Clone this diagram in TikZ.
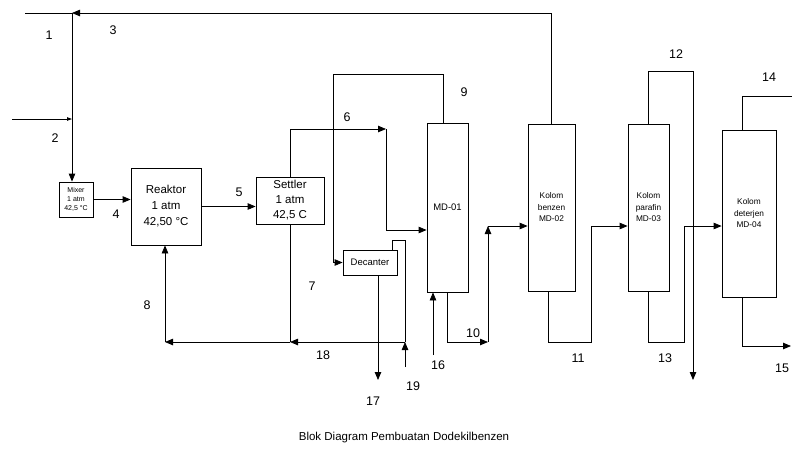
\documentclass[tikz,border=0pt]{standalone}
\usepackage{fontspec}
\setmainfont{Liberation Sans}
\usetikzlibrary{arrows.meta, positioning, calc}

\begin{document}
\begin{tikzpicture}[x=1pt, y=-1pt, line width=0.8pt,
    unit/.style={draw, inner sep=0pt, align=center, font=\fontsize{11.5}{16}\selectfont},
    kolom/.style={draw, inner sep=0pt, align=center, font=\fontsize{8.3}{11.5}\selectfont},
    flow/.style={-{Triangle[length=8pt, width=6.5pt]}},
    stream/.style={font=\fontsize{12.5}{13}\selectfont, inner sep=0pt}]
    \useasboundingbox (0,0) rectangle (792,456);

    % unit operations
    \node[draw, inner sep=0pt, align=center, minimum width=34, minimum height=35,
          font=\fontsize{7}{9}\selectfont] (mixer) at (76,199.5) {Mixer\\1 atm\\42,5 °C};
    \node[unit, minimum width=70, minimum height=77] (reaktor) at (166,206.5) {Reaktor\\1 atm\\42,50 °C};
    \node[unit, minimum width=68, minimum height=47, font=\fontsize{11.5}{15}\selectfont] (settler) at (290,200.5) {Settler\\1 atm\\42,5 C};
    \node[draw, inner sep=0pt, minimum width=41, minimum height=169,
          font=\fontsize{9.5}{11}\selectfont] (md01) at (447.5,207.5) {MD-01};
    \node[draw, inner sep=0pt, minimum width=54, minimum height=25,
          font=\fontsize{9.5}{11}\selectfont] (decanter) at (370,262.5) {Decanter};
    \node[kolom, minimum width=47, minimum height=167] (benzen) at (551.5,207.5) {Kolom\\benzen\\MD-02};
    \node[kolom, minimum width=41, minimum height=167] (parafin) at (648.5,207.5) {Kolom\\parafin\\MD-03};
    \node[kolom, minimum width=54, minimum height=167] (deterjen) at (749,213.5) {Kolom\\deterjen\\MD-04};

    % feed and recycle to mixer
    \coordinate (feed1) at (25,13);
    \coordinate (mixj) at (72,13);
    \coordinate (feed2) at (12,119);
    \draw (feed1) -- (mixj);
    \draw[flow] (benzen.north) |- (mixj);
    \draw[flow] (mixj) -- (mixj |- mixer.north);
    \draw[-{Triangle[length=5pt, width=3.5pt]}] (feed2) -- (feed2 -| mixj);
    \draw[flow] (mixer.east) -- (mixer.east -| reaktor.west);
    \draw[flow] (reaktor.east) -- (reaktor.east -| settler.west);

    % settler top to MD-01
    \coordinate (s6) at (386,129);
    \coordinate (s6b) at (386,230);
    \draw[flow] (settler.north) |- (s6);
    \draw[flow] (s6) -- (s6b) -- (s6b -| md01.west);

    % MD-01 top to decanter
    \coordinate (s9) at (333,74);
    \draw[flow] ([xshift=-4.5pt]md01.north) |- (s9) |- (decanter.west);

    % recycle line 18
    \coordinate (s19a) at (405,240);
    \coordinate (j19) at (405,342);
    \coordinate (j7) at (290,342);
    \coordinate (r8) at (165,342);
    \draw ([xshift=-5pt]decanter.north east) |- (s19a) -- (j19);
    \draw[flow] (j19) -- (j7);
    \draw[flow] (j7) -- (r8);
    \draw[flow] (r8) -- (r8 |- reaktor.south);
    \draw (settler.south) -- (j7);
    \coordinate (f19) at (405,367);
    \draw[flow] (f19) -- (j19);
    \coordinate (p17) at (378,380);
    \draw[flow] (p17 |- decanter.south) -- (p17);
    \coordinate (f16) at (433,355);
    \draw[flow] (f16) -- (f16 |- md01.south);

    % columns
    \coordinate (s10) at (488,342);
    \coordinate (s10b) at (488,226);
    \draw[flow] (md01.south) |- (s10);
    \draw[flow] (s10) -- (s10b);
    \draw[flow] (s10b) -- (s10b -| benzen.west);
    \coordinate (s11) at (591,342);
    \coordinate (s11b) at (591,226);
    \draw[flow] ([xshift=-3.5pt]benzen.south) |- (s11) -- (s11b) -- (s11b -| parafin.west);
    \coordinate (s12) at (693,71);
    \coordinate (p12) at (693,380);
    \draw[flow] (parafin.north) |- (s12) -- (p12);
    \coordinate (s13) at (684,342);
    \coordinate (s13b) at (684,226);
    \draw[flow] (parafin.south) |- (s13) -- (s13b) -- (s13b -| deterjen.west);
    \coordinate (p14) at (792,96);
    \draw ([xshift=-7pt]deterjen.north) |- (p14);
    \coordinate (p15) at (791,346);
    \draw[flow] ([xshift=-7pt]deterjen.south) |- (p15);

    % stream numbers
    \node[stream] (n1) at (49,35) {1};
    \node[stream] (n2) at (55,138) {2};
    \node[stream] (n3) at (113,30) {3};
    \node[stream] (n4) at (116,214) {4};
    \node[stream] (n5) at (239,192) {5};
    \node[stream] (n6) at (347,117) {6};
    \node[stream] (n7) at (312,286) {7};
    \node[stream] (n8) at (147,305) {8};
    \node[stream] (n9) at (464,92) {9};
    \node[stream] (n10) at (473,333) {10};
    \node[stream] (n11) at (578,358) {11};
    \node[stream] (n12) at (676,54) {12};
    \node[stream] (n13) at (665,358) {13};
    \node[stream] (n14) at (769,77) {14};
    \node[stream] (n15) at (782,368) {15};
    \node[stream] (n16) at (438,365) {16};
    \node[stream] (n17) at (373,401) {17};
    \node[stream] (n18) at (323,355) {18};
    \node[stream] (n19) at (413,386) {19};

    \node[font=\fontsize{11.5}{13}\selectfont] (caption) at (404,438) {Blok Diagram Pembuatan Dodekilbenzen};
\end{tikzpicture}
\end{document}
